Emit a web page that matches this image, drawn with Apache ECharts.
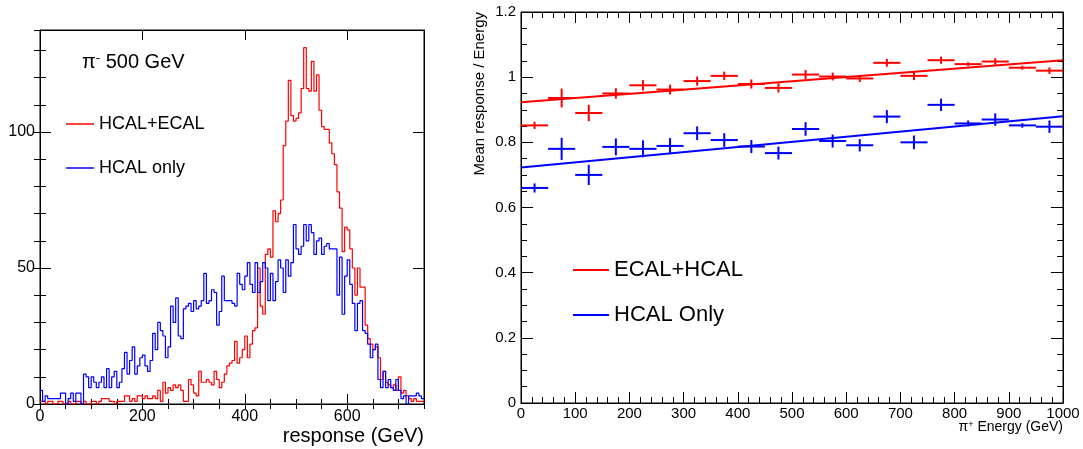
<!DOCTYPE html>
<html>
<head>
<meta charset="utf-8">
<script src="https://cdn.jsdelivr.net/npm/echarts@6/dist/echarts.min.js"></script>
<style>
html,body{margin:0;padding:0;background:#fff;}
#chart{width:1083px;height:449px;}
</style>
</head>
<body>
<div id="chart"></div>
<script>
// ---------- Left panel: response histograms (pi- 500 GeV), 5 GeV bins from 0 to 750 GeV ----------
const histBinWidth = 5;
const histRange = [0, 750];
const hcalEcalCounts = [
  1,1,0,1,1,0,0,1,1,0, 0,1,0,0,1,1,0,1,0,0,
  1,1,0,1,2,2,2,1,1,0, 1,1,1,3,3,1,2,1,3,3,
  2,3,2,2,3,2,5,1,8,4, 6,5,7,6,7,5,1,1,9,7,
  4,3,12,8,8,9,8,7,12,9, 6,8,11,14,15,16,23,15,17,20,
  25,17,22,27,28,50,36,33,55,57, 54,71,67,70,75,95,104,119,106,104,
  105,107,116,131,116,115,126,115,121,108, 102,101,101,96,92,88,78,72,56,65,
  64,57,50,40,50,43,43,29,24,22, 20,21,17,9,12,8,7,6,7,5,
  10,4,5,3,2,1,2,1,1,1
];
const hcalOnlyCounts = [
  5,1,3,2,2,2,2,2,4,4, 0,2,4,1,4,4,0,11,10,6,
  10,8,6,8,10,6,13,6,10,12, 6,8,13,19,11,16,21,11,14,17,
  18,14,12,16,26,20,30,27,25,17, 21,36,30,39,25,24,35,36,37,34,
  38,35,36,38,48,37,38,42,41,29, 34,47,38,38,38,37,36,48,44,42,
  47,52,44,41,52,41,45,52,50,38, 48,38,45,53,50,41,53,47,52,66,
  57,55,58,66,60,66,63,55,60,61, 55,58,59,57,57,57,40,54,33,47,
  53,44,37,27,37,38,27,26,22,17, 20,22,9,6,12,6,9,6,5,9,
  5,2,3,0,3,3,3,4,3,2
];

// ---------- Right panel: mean response / energy vs pi+ energy ----------
const energyCenters = [25,75,125,175,225,275,325,375,425,475,525,575,625,675,725,775,825,875,925,975];
const energyHalfWidth = 25;
const ecalHcalMean = [0.852,0.936,0.890,0.950,0.975,0.962,0.988,1.004,0.979,0.967,1.008,1.002,0.996,1.044,1.004,1.052,1.040,1.048,1.029,1.020];
const ecalHcalErr  = [0.011,0.029,0.025,0.016,0.016,0.015,0.014,0.013,0.014,0.014,0.014,0.012,0.011,0.012,0.013,0.011,0.006,0.010,0.006,0.010];
const hcalOnlyMean = [0.660,0.780,0.700,0.786,0.780,0.789,0.828,0.807,0.787,0.767,0.841,0.804,0.791,0.879,0.800,0.915,0.858,0.870,0.852,0.848];
const hcalOnlyErr  = [0.014,0.034,0.031,0.026,0.026,0.024,0.021,0.021,0.020,0.020,0.021,0.020,0.019,0.020,0.021,0.019,0.009,0.019,0.007,0.019];
const fitEnergy = [0, 1000];
const ecalHcalFit = [0.923, 1.052];
const hcalOnlyFit = [0.723, 0.880];

const RED = '#ff0000', BLUE = '#0000ff';
const FONT = '"Liberation Sans", Arial, Helvetica, sans-serif';

function histData(counts) {
  const d = counts.map((v, i) => [histRange[0] + i * histBinWidth, v]);
  d.push([histRange[1], counts[counts.length - 1]]);
  return d;
}
function errData(centers, mean, err) {
  return centers.map((c, i) => [c, mean[i], energyHalfWidth, err[i]]);
}
function errRenderer(color) {
  return function (params, api) {
    const x = api.value(0), y = api.value(1), ex = api.value(2), ey = api.value(3);
    const l = api.coord([x - ex, y]), r = api.coord([x + ex, y]);
    const b = api.coord([x, y - ey]), t = api.coord([x, y + ey]);
    const st = { stroke: color, lineWidth: 2 };
    return { type: 'group', children: [
      { type: 'line', shape: { x1: l[0], y1: l[1], x2: r[0], y2: r[1] }, style: st },
      { type: 'line', shape: { x1: b[0], y1: b[1], x2: t[0], y2: t[1] }, style: st }
    ]};
  };
}

const black = { color: '#000', width: 1 };
function axis(base) {
  return Object.assign({
    type: 'value', splitLine: { show: false },
    axisLine: { show: true, onZero: false, lineStyle: black },
    axisLabel: { show: false }
  }, base);
}
const plain = v => String(v);
const lblL = { show: true, color: '#000', fontSize: 16, fontFamily: FONT, showMaxLabel: false, formatter: plain };
const lblR = { show: true, color: '#000', fontSize: 15, fontFamily: FONT, formatter: plain };

const chart = echarts.init(document.getElementById('chart'), null, { renderer: 'canvas' });
chart.setOption({
  animation: false,
  backgroundColor: '#fff',
  grid: [
    { left: 40, top: 30, width: 384, height: 374, show: true, borderColor: '#000', borderWidth: 1, backgroundColor: 'transparent' },
    { left: 521, top: 12, width: 542, height: 391, show: true, borderColor: '#000', borderWidth: 1, backgroundColor: 'transparent' }
  ],
  xAxis: [
    axis({ gridIndex: 0, min: 0, max: 750, interval: 200, position: 'bottom', axisTick: { inside: true, length: 10, lineStyle: black }, axisLabel: Object.assign({ margin: 5 }, lblL) }),
    axis({ gridIndex: 0, min: 0, max: 750, interval: 50, position: 'bottom', axisLine: { show: false }, axisTick: { inside: true, length: 5, lineStyle: black } }),
    axis({ gridIndex: 0, min: 0, max: 750, interval: 200, position: 'top', axisTick: { inside: true, length: 10, lineStyle: black } }),
    axis({ gridIndex: 0, min: 0, max: 750, interval: 50, position: 'top', axisLine: { show: false }, axisTick: { inside: true, length: 5, lineStyle: black } }),
    axis({ gridIndex: 1, min: 0, max: 1000, interval: 100, position: 'bottom', axisTick: { inside: true, length: 11, lineStyle: black }, minorTick: { show: true, splitNumber: 5, length: 6, lineStyle: black }, axisLabel: Object.assign({ margin: 3 }, lblR) }),
    axis({ gridIndex: 1, min: 0, max: 1000, interval: 100, position: 'top', axisTick: { inside: true, length: 11, lineStyle: black }, minorTick: { show: true, splitNumber: 5, length: 6, lineStyle: black } })
  ],
  yAxis: [
    axis({ gridIndex: 0, min: 0, max: 137.5, interval: 50, position: 'left', axisTick: { inside: true, length: 11, lineStyle: black }, axisLabel: Object.assign({ margin: 5 }, lblL) }),
    axis({ gridIndex: 0, min: 0, max: 137.5, interval: 10, position: 'left', axisLine: { show: false }, axisTick: { inside: true, length: 6, lineStyle: black } }),
    axis({ gridIndex: 0, min: 0, max: 137.5, interval: 50, position: 'right', axisTick: { inside: true, length: 11, lineStyle: black } }),
    axis({ gridIndex: 0, min: 0, max: 137.5, interval: 10, position: 'right', axisLine: { show: false }, axisTick: { inside: true, length: 6, lineStyle: black } }),
    axis({ gridIndex: 1, min: 0, max: 1.2, interval: 0.2, position: 'left', axisTick: { inside: true, length: 12, lineStyle: black }, minorTick: { show: true, splitNumber: 4, length: 6, lineStyle: black }, axisLabel: Object.assign({ margin: 5 }, lblR) }),
    axis({ gridIndex: 1, min: 0, max: 1.2, interval: 0.2, position: 'right', axisTick: { inside: true, length: 12, lineStyle: black }, minorTick: { show: true, splitNumber: 4, length: 6, lineStyle: black } })
  ],
  legend: [
    { data: ['HCAL+ECAL', 'HCAL only'], orient: 'vertical', left: 61, top: 110, icon: 'rect', itemWidth: 28, itemHeight: 1.5, itemGap: 26,
      textStyle: { color: '#000', fontSize: 18, fontFamily: FONT }, selectedMode: false },
    { data: ['ECAL+HCAL', 'HCAL Only'], orient: 'vertical', left: 568, top: 254, icon: 'rect', itemWidth: 36, itemHeight: 2, itemGap: 23,
      textStyle: { color: '#000', fontSize: 22, fontFamily: FONT }, selectedMode: false }
  ],
  title: {
    text: '{p|π}{s|-}{t| 500 GeV}', left: 77, top: 47,
    textStyle: { fontWeight: 'normal', rich: {
      p: { fontSize: 20, fontFamily: FONT, color: '#000', fontWeight: 'normal' },
      s: { fontSize: 13, fontFamily: FONT, color: '#000', fontWeight: 'normal', verticalAlign: 'top' },
      t: { fontSize: 20, fontFamily: FONT, color: '#000', fontWeight: 'normal' }
    } }
  },
  graphic: [
    { type: 'text', x: 424, y: 436, style: { text: 'response (GeV)', fill: '#000', font: '20px ' + FONT, textAlign: 'right', textVerticalAlign: 'middle' } },
    { type: 'text', x: 1063, y: 427, style: { text: '{p|π}{s|+}{t| Energy (GeV)}', fill: '#000', textAlign: 'right', textVerticalAlign: 'middle',
        rich: { p: { fontSize: 14, fontFamily: FONT }, s: { fontSize: 9, fontFamily: FONT, verticalAlign: 'top' }, t: { fontSize: 14, fontFamily: FONT } } } },
    { type: 'text', x: 480, y: 12, rotation: Math.PI / 2, style: { text: 'Mean response / Energy', fill: '#000', font: '15px ' + FONT, textAlign: 'right', textVerticalAlign: 'middle' } }
  ],
  series: [
    { name: 'HCAL+ECAL', type: 'line', xAxisIndex: 0, yAxisIndex: 0, step: 'end', showSymbol: false, symbol: 'none',
      data: histData(hcalEcalCounts), lineStyle: { color: RED, width: 1.2 }, itemStyle: { color: RED } },
    { name: 'HCAL only', type: 'line', xAxisIndex: 0, yAxisIndex: 0, step: 'end', showSymbol: false, symbol: 'none',
      data: histData(hcalOnlyCounts), lineStyle: { color: BLUE, width: 1.2 }, itemStyle: { color: BLUE } },
    { name: 'ECAL+HCAL points', type: 'custom', xAxisIndex: 4, yAxisIndex: 4, renderItem: errRenderer(RED),
      data: errData(energyCenters, ecalHcalMean, ecalHcalErr), encode: { x: 0, y: 1 } },
    { name: 'HCAL Only points', type: 'custom', xAxisIndex: 4, yAxisIndex: 4, renderItem: errRenderer(BLUE),
      data: errData(energyCenters, hcalOnlyMean, hcalOnlyErr), encode: { x: 0, y: 1 } },
    { name: 'ECAL+HCAL', type: 'line', xAxisIndex: 4, yAxisIndex: 4, showSymbol: false, symbol: 'none',
      data: fitEnergy.map((e, i) => [e, ecalHcalFit[i]]), lineStyle: { color: RED, width: 2 }, itemStyle: { color: RED } },
    { name: 'HCAL Only', type: 'line', xAxisIndex: 4, yAxisIndex: 4, showSymbol: false, symbol: 'none',
      data: fitEnergy.map((e, i) => [e, hcalOnlyFit[i]]), lineStyle: { color: BLUE, width: 2 }, itemStyle: { color: BLUE } }
  ]
});
</script>
</body>
</html>
